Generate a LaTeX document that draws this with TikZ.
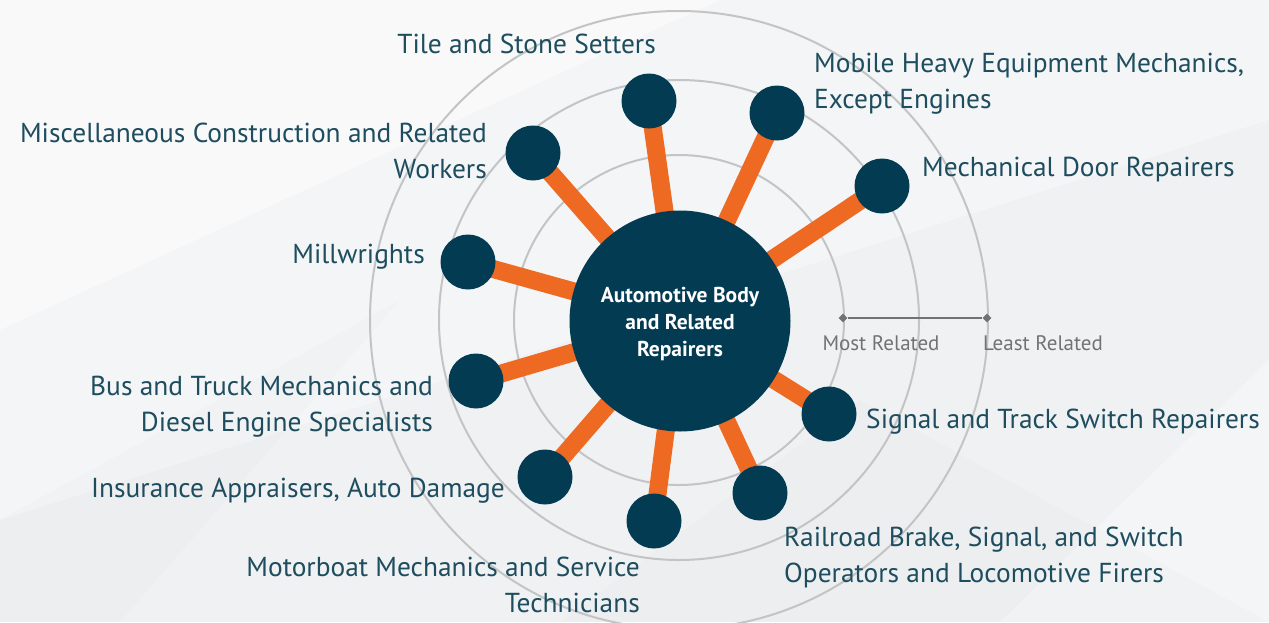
\documentclass[tikz,border=0pt]{standalone}
\usepackage{fontspec}
\setmainfont{PT Sans}
\usetikzlibrary{shapes.geometric}
\definecolor{bgbase}{HTML}{F0F1F3}
\definecolor{navy}{HTML}{033B52}
\definecolor{orng}{HTML}{EE6A22}
\definecolor{ring}{HTML}{C3C4C6}
\definecolor{txt}{HTML}{1D4D5E}
\definecolor{scalegray}{HTML}{727272}
\pgfdeclarelayer{bg}
\pgfdeclarelayer{edges}
\pgfsetlayers{bg,edges,main}
\tikzset{
  hub/.style={circle, fill=navy, minimum size=221pt, inner sep=0pt},
  hubtext/.style={text=white, align=center, inner sep=0pt,
    font=\fontsize{21.5}{27}\selectfont\bfseries},
  sat/.style={circle, fill=navy, minimum size=55pt, inner sep=0pt},
  conn/.style={orng, line width=18pt},
  lbl/.style={text=txt, inner sep=0pt, font=\fontsize{27.4}{36}\selectfont},
  lblL/.style={lbl, anchor=east, align=right},
  lblR/.style={lbl, anchor=west, align=left},
  tick/.style={diamond, fill=scalegray, minimum size=9pt, inner sep=0pt},
  scalelbl/.style={text=scalegray, inner sep=0pt, font=\fontsize{21}{24}\selectfont},
}
\begin{document}
\begin{tikzpicture}[x=1pt, y=-1pt]
\useasboundingbox (0,0) rectangle (1269,622);
\begin{pgfonlayer}{bg}
  \fill[bgbase] (0,0) rectangle (1269,622);
  \fill[white, opacity=0.6] (0,0) -- (720,0) -- (0,330) -- cycle;
  \fill[white, opacity=0.3] (0,330) -- (720,0) -- (1269,0) -- (1269,120) -- (0,520) -- cycle;
  \fill[black, opacity=0.012] (0,520) -- (400,300) -- (120,622) -- (0,622) -- cycle;
  \fill[white, opacity=0.3] (1000,622) -- (1269,360) -- (1269,622) -- cycle;
  \fill[black, opacity=0.012] (560,622) -- (860,400) -- (1269,622) -- cycle;
  \draw[ring, line width=2pt] (679,320) circle[radius=165];
  \draw[ring, line width=2pt] (679,320) circle[radius=240];
  \draw[ring, line width=2pt] (679,320) circle[radius=309];
\end{pgfonlayer}

\node[hub] (c) at (680,321) {};
\node[hubtext] (ct) at (680,324) {Automotive Body\\and Related\\Repairers};

\node[sat] (tile) at (649,101) {};
\node[sat] (mob)  at (777,113) {};
\node[sat] (door) at (882,186) {};
\node[sat] (misc) at (533,153) {};
\node[sat] (mill) at (468,262) {};
\node[sat] (bus)  at (476,381) {};
\node[sat] (sig)  at (829,414) {};
\node[sat] (ins)  at (545,477) {};
\node[sat] (boat) at (654,521) {};
\node[sat] (rail) at (760,493) {};

\begin{pgfonlayer}{edges}
  \foreach \n in {tile,mob,door,misc,mill,bus,sig,ins,boat,rail}
    \draw[conn] (c.center) -- (\n.center);
\end{pgfonlayer}

\node[lblL] (ltile) at (656,44) {Tile and Stone Setters};
\node[lblR] (lmob)  at (814,84) {Mobile Heavy Equipment Mechanics,\\Except Engines};
\node[lblR] (ldoor) at (922,170) {Mechanical Door Repairers};
\node[lblL] (lmisc) at (487,151) {Miscellaneous Construction and Related\\Workers};
\node[lblL] (lmill) at (425,257) {Millwrights};
\node[lblL] (lbus)  at (433,407) {Bus and Truck Mechanics and\\Diesel Engine Specialists};
\node[lblL] (lins)  at (505,491) {Insurance Appraisers, Auto Damage};
\node[lblL] (lboat) at (640,585) {Motorboat Mechanics and Service\\Technicians};
\node[lblR] (lsig)  at (866,422) {Signal and Track Switch Repairers};
\node[lblR] (lrail) at (784,557) {Railroad Brake, Signal, and Switch\\Operators and Locomotive Firers};

\node[tick] (most) at (843,318) {};
\node[tick] (least) at (987,318) {};
\draw[scalegray, line width=2.5pt] (most) -- (least);
\node[scalelbl] (lmost) at (881,343) {Most Related};
\node[scalelbl] (lleast) at (1043,343) {Least Related};
\end{tikzpicture}
\end{document}
